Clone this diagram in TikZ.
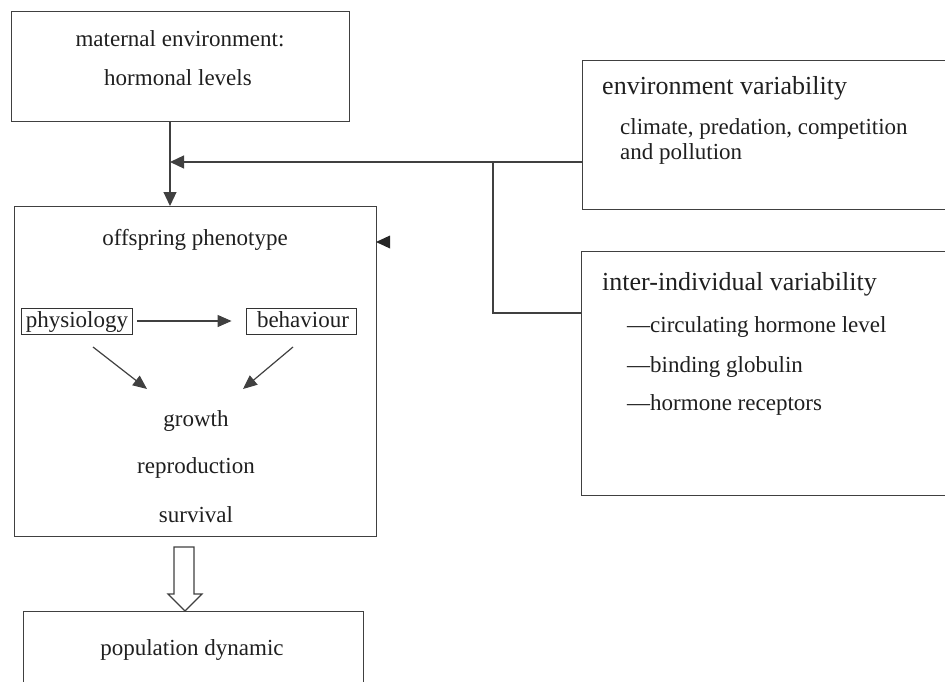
\documentclass[tikz,border=0pt]{standalone}
\usepackage{fontspec}
\setmainfont{Liberation Serif}
\usetikzlibrary{arrows.meta,calc}
\begin{document}
\begin{tikzpicture}[x=1pt,y=-1pt,
  box/.style={draw=black!75,line width=1.2pt,rectangle,anchor=north west,inner sep=0pt},
  body/.style={text=black!88,font=\fontsize{23}{27}\selectfont,inner sep=0pt,anchor=base},
  head/.style={text=black!88,font=\fontsize{26}{30}\selectfont,inner sep=0pt,anchor=base west},
  framed/.style={draw=black!80,line width=0.9pt,text=black!88,font=\fontsize{23}{27}\selectfont,inner xsep=4.5pt,inner ysep=0pt,text height=19pt,text depth=7pt,anchor=base},
  conn/.style={draw=black!75,line width=1.2pt},
  tip/.style={-{Triangle[length=14pt,width=13pt]}},
  smalltip/.style={-{Triangle[length=14pt,width=12pt]}}
]
\useasboundingbox (0,0) rectangle (945,682);
% boxes
\node[box,minimum width=338pt,minimum height=110pt] (mat) at (11,11) {};
\node[box,minimum width=362pt,minimum height=330pt] (off) at (14,206) {};
\node[box,minimum width=340pt,minimum height=100pt] (pop) at (23,611) {};
\node[box,minimum width=380pt,minimum height=149pt] (env) at (582,60) {};
\node[box,minimum width=380pt,minimum height=244pt] (inter) at (581,251) {};
% texts
\node[body] (t1) at (180,47) {maternal environment:};
\node[body] (t2) at (178,86) {hormonal levels};
\node[body] (t3) at (195,245) {offspring phenotype};
\node[framed] (phys) at (77,327) {physiology};
\node[framed,inner xsep=0pt] (beh) at (301,327) {\kern11pt behaviour\kern7pt};
\node[body] (gr) at (196,426) {growth};
\node[body] (rep) at (196,473) {reproduction};
\node[body] (sur) at (196,522) {survival};
\node[body] (pd) at (192,655) {population dynamic};
\node[head] (ev) at (602,95) {environment variability};
\node[body,anchor=base west] (ev1) at (620,135) {climate, predation, competition};
\node[body,anchor=base west] (ev2) at (620,160) {and pollution};
\node[head] (iv) at (602,290) {inter-individual variability};
\node[body,anchor=base west] (iv1) at (627,332) {—circulating hormone level};
\node[body,anchor=base west] (iv2) at (627,372) {—binding globulin};
\node[body,anchor=base west] (iv3) at (627,410) {—hormone receptors};
% connectors
\coordinate (j) at (170,162);
\coordinate (b) at (493,162);
\coordinate (b2) at (493,313);
\draw[conn,tip] (mat.south -| j) -- (off.north -| j);
\draw[conn,tip] (env.west |- j) -- (j);
\draw[conn] (b) -- (b2) -- (inter.west |- b2);
\fill[black!85] (376,242) -- (390,235.5) -- (390,248.5) -- cycle;
\draw[conn,smalltip,shorten <=4pt,shorten >=14pt] (phys.east) -- (phys.east -| beh.west);
\coordinate (d1s) at (93,347);
\coordinate (d1e) at (147,389);
\coordinate (d2s) at (293,347);
\coordinate (d2e) at (243,389);
\draw[conn,smalltip] (d1s) -- (d1e);
\draw[conn,smalltip] (d2s) -- (d2e);
% hollow arrow
\draw[draw=black!75,line width=1.2pt,fill=white]
  (174,547) -- (194,547) -- (194,594) -- (202,594) -- (185,611) -- (168,594) -- (174,594) -- cycle;
\end{tikzpicture}
\end{document}
